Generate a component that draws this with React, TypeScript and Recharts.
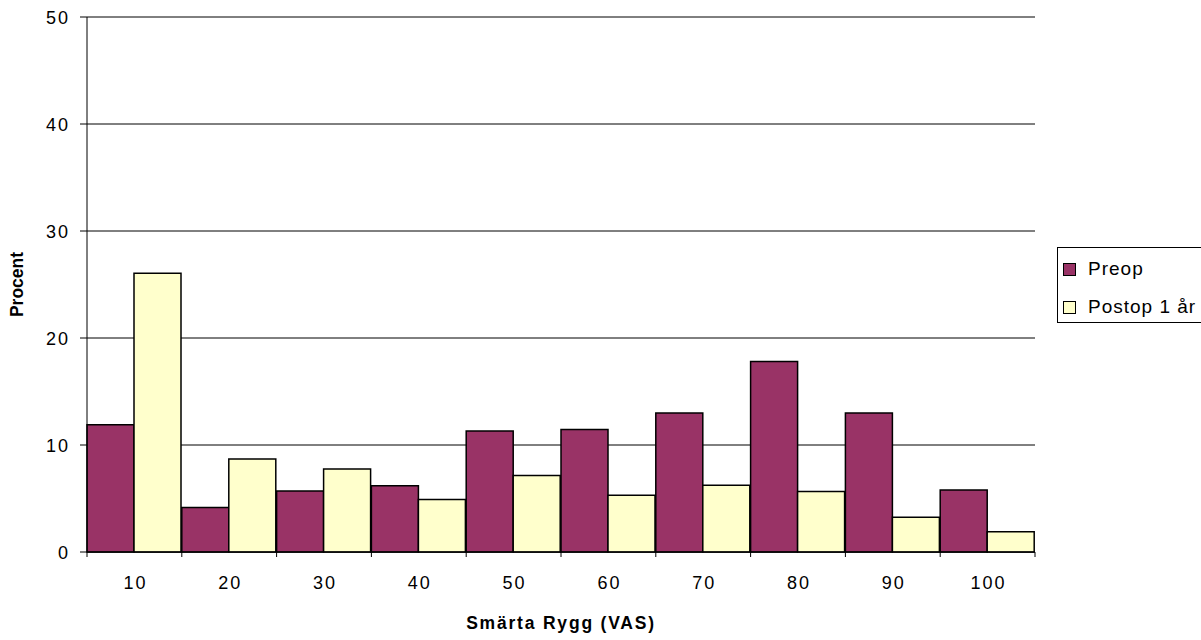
import React from "react";
import { BarChart, Bar, XAxis, YAxis, CartesianGrid } from "recharts";

// VAS back pain distribution, percent of patients per 10-point interval
const categories = ["10", "20", "30", "40", "50", "60", "70", "80", "90", "100"];
const preop = [11.9, 4.15, 5.7, 6.2, 11.3, 11.45, 13.0, 17.8, 13.0, 5.8];
const postop = [26.05, 8.7, 7.75, 4.9, 7.15, 5.3, 6.25, 5.65, 3.25, 1.9];
const yTicks = [0, 10, 20, 30, 40, 50];

const seriesKeys = ["preop", "postop"] as const;
const seriesNames = { preop: "Preop", postop: "Postop 1 år" };
const colors = { preop: "#993366", postop: "#FFFFCC" };

const data = categories.map((c, i) => ({ cat: c, preop: preop[i], postop: postop[i] }));

const FONT = "'Liberation Sans', Arial, sans-serif";

// Category tick: label centred in the band, short tick mark on the band's
// left edge (and on the right edge of the last band).
const XTick = (props: any) => {
  const { x, y, payload, index, visibleTicksCount } = props;
  const half = payload.offset ?? 0;
  return (
    <g>
      <line x1={x - half} y1={y} x2={x - half} y2={y + 5} stroke="#000" strokeWidth={1} />
      {index === visibleTicksCount - 1 && (
        <line x1={x + half} y1={y} x2={x + half} y2={y + 5} stroke="#000" strokeWidth={1} />
      )}
      <text
        x={x + 1}
        y={y + 37}
        textAnchor="middle"
        fontSize={18}
        letterSpacing={2}
        fontFamily={FONT}
        fill="#000"
      >
        {payload.value}
      </text>
    </g>
  );
};

const YTick = (props: any) => {
  const { x, y, payload } = props;
  return (
    <text
      x={x}
      y={y + 6.5}
      textAnchor="end"
      fontSize={18}
      letterSpacing={2}
      fontFamily={FONT}
      fill="#000"
    >
      {payload.value}
    </text>
  );
};

const LegendBox = () => (
  <div
    style={{
      position: "absolute",
      left: 1057,
      top: 247,
      width: 144,
      height: 76,
      border: "1px solid #000",
      borderRight: "none",
      background: "#fff",
      boxSizing: "border-box",
      fontFamily: FONT,
      fontSize: 19,
      letterSpacing: 1,
      color: "#000",
    }}
  >
    {seriesKeys.map((k, i) => (
      <div
        key={k}
        style={{
          position: "absolute",
          left: 5,
          top: i === 0 ? 8 : 46,
          height: 26,
          display: "flex",
          alignItems: "center",
          whiteSpace: "nowrap",
        }}
      >
        <span
          style={{
            display: "inline-block",
            width: 11,
            height: 11,
            background: colors[k],
            border: "1px solid #000",
            marginRight: 12,
          }}
        />
        <span>{seriesNames[k]}</span>
      </div>
    ))}
  </div>
);

export default function App() {
  return (
    <div style={{ position: "absolute", left: 0, top: 0, width: 1201, height: 640, background: "#fff" }}>
      <BarChart
        width={1201}
        height={640}
        data={data}
        margin={{ top: 17, right: 166, bottom: 0, left: 0 }}
        barCategoryGap={0}
        barGap={0}
      >
        <CartesianGrid vertical={false} stroke="#000" strokeWidth={1} />
        <XAxis
          dataKey="cat"
          height={88}
          tickLine={false}
          tickSize={0}
          tickMargin={0}
          tick={<XTick />}
          axisLine={{ stroke: "#000", strokeWidth: 1 }}
          interval={0}
          label={{
            value: "Smärta Rygg (VAS)",
            position: "insideBottom",
            offset: 11,
            style: { fontFamily: FONT, fontSize: 17.5, fontWeight: "bold", fill: "#000", letterSpacing: 1.8 },
          }}
        />
        <YAxis
          width={87}
          domain={[0, 50]}
          ticks={yTicks}
          interval={0}
          tickSize={7}
          tickMargin={10}
          tickLine={{ stroke: "#000" }}
          axisLine={{ stroke: "#000", strokeWidth: 1 }}
          tick={<YTick />}
          label={{
            value: "Procent",
            angle: -90,
            position: "insideLeft",
            offset: 17,
            style: { fontFamily: FONT, fontSize: 17.5, fontWeight: "bold", fill: "#000", textAnchor: "middle" },
          }}
        />
        <Bar
          dataKey="preop"
          name={seriesNames.preop}
          fill={colors.preop}
          stroke="#000"
          strokeWidth={1.5}
          isAnimationActive={false}
        />
        <Bar
          dataKey="postop"
          name={seriesNames.postop}
          fill={colors.postop}
          stroke="#000"
          strokeWidth={1.5}
          isAnimationActive={false}
        />
      </BarChart>
      <LegendBox />
    </div>
  );
}
